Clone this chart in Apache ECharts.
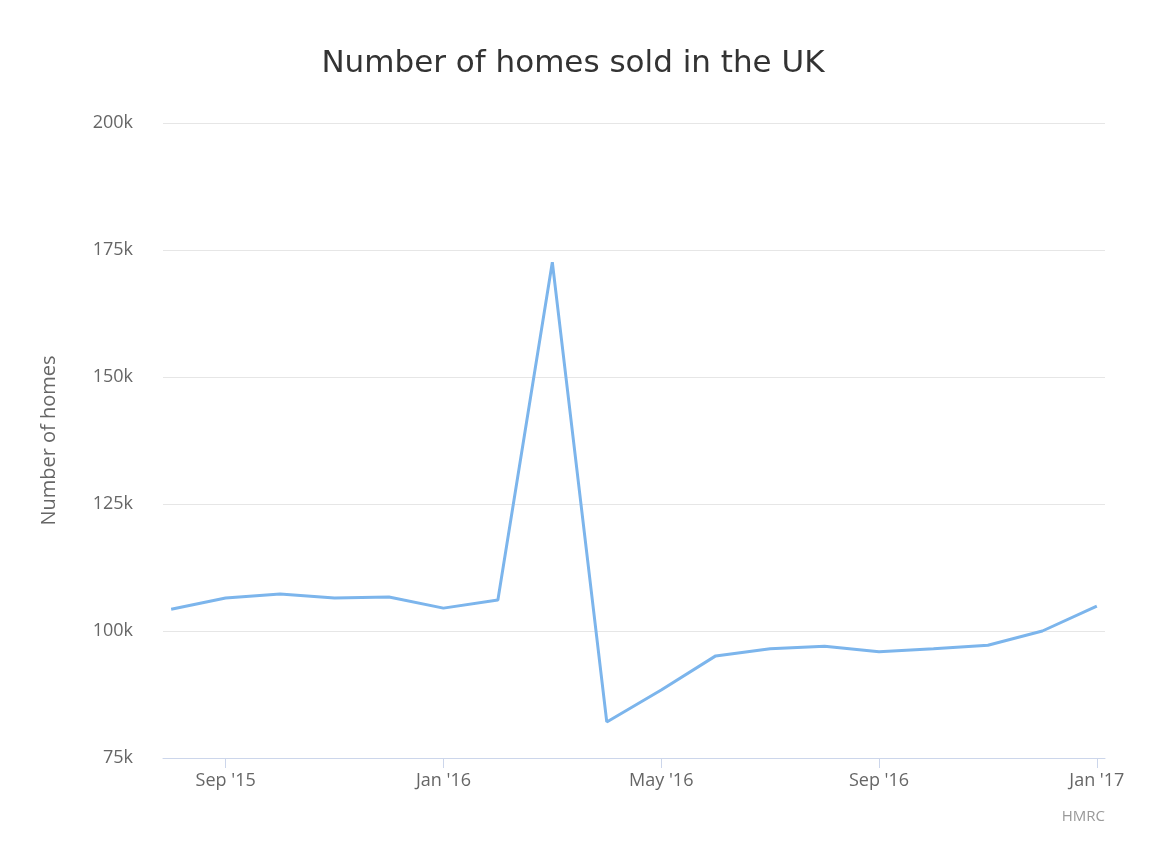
<!DOCTYPE html>
<html><head><meta charset="utf-8">
<script src="https://cdn.jsdelivr.net/npm/echarts@6/dist/echarts.min.js"></script>
<style>html,body{margin:0;padding:0;background:#fff}#c{width:1154px;height:858px}</style>
</head><body><div id="c"></div>
<script>
const months = ["Aug '15","Sep '15","Oct '15","Nov '15","Dec '15","Jan '16","Feb '16","Mar '16","Apr '16","May '16","Jun '16","Jul '16","Aug '16","Sep '16","Oct '16","Nov '16","Dec '16","Jan '17"];
const homesSold = [104300,106500,107300,106500,106700,104500,106100,172600,82100,88400,95100,96500,97000,95900,96500,97200,100000,104900];
const labelIdx = [1,5,9,13,17];
const font = "'Open Sans', sans-serif";
const chart = echarts.init(document.getElementById('c'));
chart.setOption({
  animation:false,
  title:{text:'Number of homes sold in the UK',left:568,textAlign:'center',top:43,textStyle:{fontFamily:"'DejaVu Sans', sans-serif",fontSize:31,fontWeight:'normal',color:'#333'}},
  graphic:[{type:'text',right:49,top:809,style:{text:'HMRC',fill:'#999',font:"15px "+font,textAlign:'right'}}],
  grid:{left:163,right:49,top:123,bottom:100},
  xAxis:{type:'value',min:-0.15,max:17.15,
    axisLine:{lineStyle:{color:'#ccd6eb'}},
    axisTick:{show:true,customValues:labelIdx,length:10,lineStyle:{color:'#ccd6eb'}},
    axisLabel:{customValues:labelIdx,formatter:v=>months[Math.round(v)],color:'#666',fontSize:18,fontFamily:font,margin:14},
    splitLine:{show:false}},
  yAxis:{type:'value',min:75000,max:200000,interval:25000,
    name:'Number of homes',nameLocation:'middle',nameGap:104,nameRotate:90,
    nameTextStyle:{color:'#666',fontSize:20,fontFamily:font},
    axisLabel:{formatter:v=>(v/1000)+'k',color:'#666',fontSize:18,fontFamily:font,margin:30},
    splitLine:{lineStyle:{color:'#e6e6e6'}},axisLine:{show:false},axisTick:{show:false}},
  series:[{type:'line',data:homesSold.map((v,i)=>[i,v]),showSymbol:false,
    lineStyle:{color:'#7cb5ec',width:3},itemStyle:{color:'#7cb5ec'}}]
});
</script></body></html>
